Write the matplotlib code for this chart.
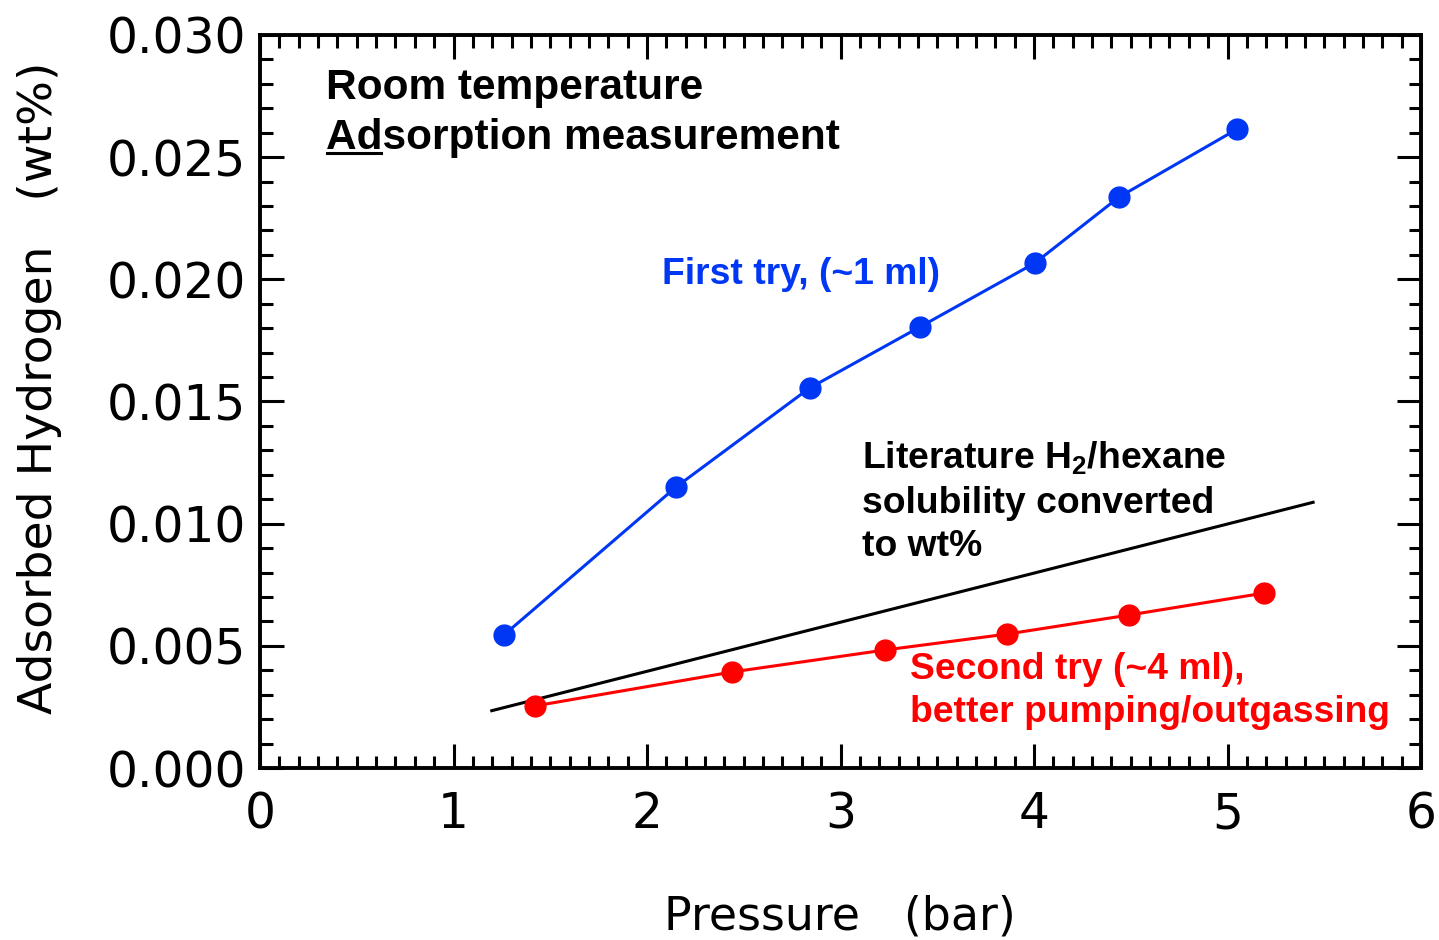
import matplotlib
matplotlib.use("Agg")
import matplotlib.pyplot as plt
from matplotlib.ticker import MultipleLocator, FormatStrFormatter

# Data
first_p = [1.26, 2.15, 2.84, 3.41, 4.005, 4.44, 5.05]
first_h = [0.00544, 0.0115, 0.01555, 0.01805, 0.02067, 0.02337, 0.02615]
second_p = [1.42, 2.44, 3.23, 3.86, 4.49, 5.19]
second_h = [0.00254, 0.00393, 0.00483, 0.00548, 0.00626, 0.00716]
lit_p = [1.19, 5.45]
lit_h = [0.00233, 0.01089]

plt.rcParams['mathtext.fontset'] = 'custom'
plt.rcParams['mathtext.bf'] = 'Liberation Sans:bold'
plt.rcParams['mathtext.rm'] = 'Liberation Sans:bold'

fig = plt.figure(figsize=(14.39, 9.40), dpi=100)
ax = fig.add_axes([260/1439, (940-768)/940, (1421-260)/1439, (768-35)/940])

blue = '#0037f5'
red = '#ff0000'
ax.plot(lit_p, lit_h, color='black', lw=2.2, solid_capstyle='butt')
ax.plot(first_p, first_h, color=blue, lw=2.2, marker='o', ms=15)
ax.plot(second_p, second_h, color=red, lw=2.2, marker='o', ms=15)

ax.set_xlim(0, 6)
ax.set_ylim(0, 0.030)
ax.xaxis.set_major_locator(MultipleLocator(1))
ax.xaxis.set_minor_locator(MultipleLocator(0.1))
ax.yaxis.set_major_locator(MultipleLocator(0.005))
ax.yaxis.set_minor_locator(MultipleLocator(0.001))
ax.yaxis.set_major_formatter(FormatStrFormatter('%.3f'))
ax.tick_params(which='both', direction='in', top=True, right=True, width=2.2)
ax.tick_params(which='major', length=17, labelsize=35)
ax.tick_params(which='minor', length=9)
ax.tick_params(axis='x', which='major', pad=16)
ax.tick_params(axis='y', which='major', pad=10)
for s in ax.spines.values():
    s.set_linewidth(2.8)
for lab in ax.get_xticklabels() + ax.get_yticklabels():
    lab.set_fontfamily('DejaVu Sans')

fig.text(840/1439, 1 - 930/940, 'Pressure   (bar)', fontsize=33, family='DejaVu Sans',
         ha='center', va='baseline')
fig.text(40/1439, 1 - 388/940, 'Adsorbed Hydrogen   (wt%)', fontsize=34, family='DejaVu Sans',
         ha='center', va='center', rotation=90)

tf = dict(family='Liberation Sans', weight='bold', fontsize=30.5)
lf = dict(family='Liberation Sans', weight='bold', fontsize=26.8)
ax.text(0.34, 0.02784, 'Room temperature', color='black', va='center', **tf)
t_ad = ax.text(0.34, 0.02579, 'Ad', color='black', va='baseline', **tf)
fig.canvas.draw()
r = fig.canvas.get_renderer()
bb = t_ad.get_window_extent(r)
t_ad.remove()
ax.text(0.34, 0.02579, 'Adsorption measurement', color='black', va='center', **tf)
uy = 940 - 153
ax.plot([bb.x0 + 1, bb.x1 - 1], [uy, uy], transform=None, color='black', lw=2.2)

ax.text(2.08, 0.02018, 'First try, (~1 ml)', color=blue, va='center', **lf)
ax.text(3.11, 0.01089, 'Literature H$_\\mathbf{2}$/hexane\nsolubility converted\nto wt%',
        color='black', va='center', linespacing=1.32, **lf)
ax.text(3.36, 0.00315, 'Second try (~4 ml),\nbetter pumping/outgassing',
        color=red, va='center', linespacing=1.32, **lf)

fig.savefig('out.png', dpi=100)
